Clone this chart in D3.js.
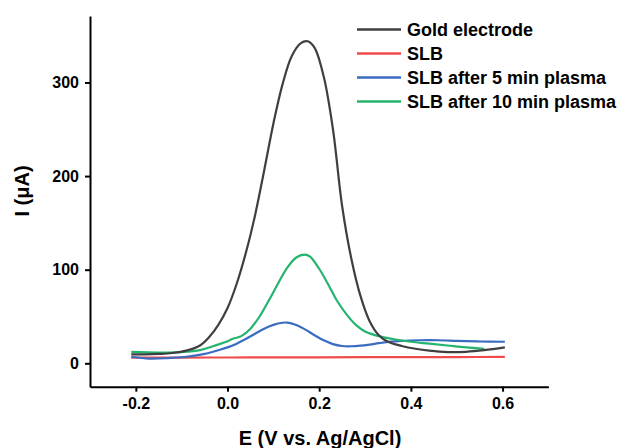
<!DOCTYPE html>
<html>
<head>
<meta charset="utf-8">
<script src="https://cdn.jsdelivr.net/npm/d3@7"></script>
<style>
    body { margin: 0; background: #fff; }
    #chart { width: 630px; height: 448px; }
    text { font-family: "Liberation Sans", Arial, sans-serif; font-weight: bold; fill: #000; }
</style>
</head>
<body>
<div id="chart"></div>
<script>
// potentials (V vs Ag/AgCl) and currents (uA)
var goldE = [-0.21, -0.18, -0.15, -0.12, -0.09, -0.06, -0.04, -0.02, 0.00, 0.02, 0.04, 0.06, 0.08, 0.10, 0.12, 0.14, 0.16, 0.175, 0.19, 0.21, 0.23, 0.25, 0.27, 0.29, 0.31, 0.33, 0.35, 0.38, 0.41, 0.44, 0.48, 0.52, 0.56, 0.605];
var goldI = [9.5, 9.5, 10, 11, 13.5, 19, 28, 41, 59, 85, 118, 158, 206, 256, 298, 328, 342, 344, 337, 306, 250, 168, 112, 72, 45, 30, 23, 18.5, 15.5, 13.5, 12, 12.3, 14, 17];

var slbE = [-0.21, -0.1, 0.0, 0.1, 0.2, 0.3, 0.4, 0.5, 0.605];
var slbI = [6, 6.1, 6.2, 6.3, 6.4, 6.5, 6.6, 6.7, 6.8];

var slb5E = [-0.21, -0.17, -0.13, -0.09, -0.05, -0.02, 0.00, 0.02, 0.04, 0.06, 0.08, 0.10, 0.12, 0.13, 0.15, 0.17, 0.19, 0.21, 0.23, 0.25, 0.27, 0.29, 0.31, 0.33, 0.35, 0.38, 0.42, 0.46, 0.50, 0.55, 0.605];
var slb5I = [7, 5, 5.5, 7, 10, 14, 17, 21, 26, 31.5, 37, 41, 43.3, 43.5, 41, 36, 30, 24.5, 20.5, 18.5, 18.2, 18.8, 20, 21.5, 22.8, 24, 24.6, 24.6, 24, 23.3, 23];

var slb10E = [-0.21, -0.15, -0.10, -0.06, -0.03, 0.00, 0.01, 0.03, 0.05, 0.07, 0.09, 0.11, 0.13, 0.15, 0.168, 0.18, 0.20, 0.22, 0.24, 0.26, 0.28, 0.30, 0.33, 0.36, 0.40, 0.44, 0.48, 0.52, 0.56];
var slb10I = [12.2, 11.5, 12, 14, 18.5, 23.5, 26, 29, 37, 50, 67, 85, 102, 113, 116, 114, 101, 84, 66, 52, 41, 34, 29, 26, 23, 21, 19, 17, 15.5];

var seriesNames = ['Gold electrode', 'SLB', 'SLB after 5 min plasma', 'SLB after 10 min plasma'];
var seriesColors = ['#3f3f3f', '#f04a4a', '#3a6cc2', '#25b46e'];

var xTicks = [-0.2, 0.0, 0.2, 0.4, 0.6];
var yTicks = [0, 100, 200, 300];

var width = 630, height = 448;

var svg = d3.select('#chart')
    .append('svg')
    .attr('width', width)
    .attr('height', height);

var x_scale = d3.scaleLinear()
    .domain([-0.3, 0.7])
    .range([90, 548.4]);

var y_scale = d3.scaleLinear()
    .domain([-25, 371])
    .range([386.7, 16]);

var x_axis = d3.axisBottom(x_scale)
    .tickValues(xTicks)
    .tickFormat(function (d) { return d.toFixed(1); })
    .tickSizeInner(5)
    .tickSizeOuter(0)
    .tickPadding(6);

var y_axis = d3.axisLeft(y_scale)
    .tickValues(yTicks)
    .tickSizeInner(5)
    .tickSizeOuter(0)
    .tickPadding(6);

var gx = svg.append('g')
    .attr('transform', 'translate(0,' + y_scale.range()[0] + ')')
    .call(x_axis);

var gy = svg.append('g')
    .attr('transform', 'translate(' + x_scale.range()[0] + ',0)')
    .call(y_axis);

[gx, gy].forEach(function (g) {
    g.select('.domain').attr('stroke', '#000').attr('stroke-width', 2);
    g.selectAll('.tick line').attr('stroke', '#000').attr('stroke-width', 2);
    g.selectAll('.tick text')
        .attr('font-size', 16)
        .attr('font-family', '"Liberation Sans", Arial, sans-serif')
        .attr('font-weight', 'bold')
        .attr('fill', '#000');
});

// axis titles
svg.append('text')
    .attr('x', 320)
    .attr('y', 445)
    .attr('text-anchor', 'middle')
    .attr('font-size', 20)
    .text('E (V vs. Ag/AgCl)');

svg.append('text')
    .attr('transform', 'translate(29,191) rotate(-90)')
    .attr('text-anchor', 'middle')
    .attr('font-size', 20)
    .text('I (\u03bcA)');

var line = d3.line()
    .x(function (d) { return x_scale(d[0]); })
    .y(function (d) { return y_scale(d[1]); })
    .curve(d3.curveCatmullRom.alpha(0.5));

var series = [
    d3.zip(goldE, goldI),
    d3.zip(slbE, slbI),
    d3.zip(slb5E, slb5I),
    d3.zip(slb10E, slb10I)
];

// draw order: red underneath, then blue, green, gold on top
[1, 2, 3, 0].forEach(function (i) {
    svg.append('path')
        .datum(series[i])
        .attr('fill', 'none')
        .attr('stroke', seriesColors[i])
        .attr('stroke-width', 2.2)
        .attr('stroke-linejoin', 'round')
        .attr('d', line);
});

// legend
var legend = svg.append('g');
seriesNames.forEach(function (name, i) {
    var yy = 29.5 + i * 24;
    legend.append('line')
        .attr('x1', 357).attr('x2', 401)
        .attr('y1', yy).attr('y2', yy)
        .attr('stroke', seriesColors[i])
        .attr('stroke-width', 2.5);
    legend.append('text')
        .attr('x', 407)
        .attr('y', yy + 6.5)
        .attr('font-size', 18)
        .text(name);
});
</script>
</body>
</html>
